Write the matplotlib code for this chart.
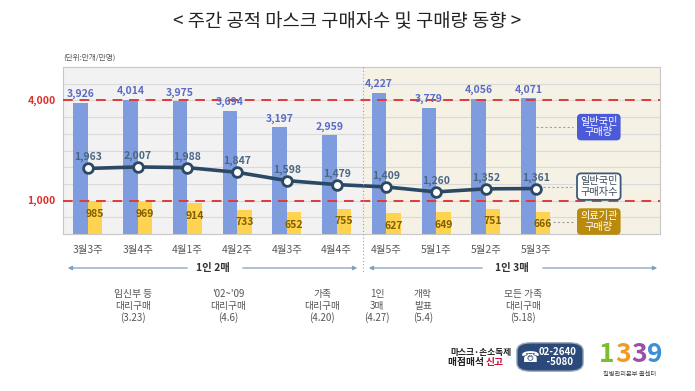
import matplotlib
matplotlib.use("Agg")
import matplotlib.pyplot as plt
from matplotlib.patches import FancyBboxPatch, FancyArrowPatch
from matplotlib.lines import Line2D
import numpy as np

plt.rcParams['font.family'] = ['Noto Sans CJK KR', 'DejaVu Sans']

categories = ['3월3주', '3월4주', '4월1주', '4월2주', '4월3주', '4월4주',
              '4월5주', '5월1주', '5월2주', '5월3주']
general_qty = [3926, 4014, 3975, 3694, 3197, 2959, 4227, 3779, 4056, 4071]
general_buyers = [1963, 2007, 1988, 1847, 1598, 1479, 1409, 1260, 1352, 1361]
medical_qty = [985, 969, 914, 733, 652, 755, 627, 649, 751, 666]
ref_lines = [4000, 1000]
ref_labels = ['4,000', '1,000']
events = ['임신부 등\n대리구매\n(3.23)', "'02~'09\n대리구매\n(4.6)", '가족\n대리구매\n(4.20)',
          '1인\n3매\n(4.27)', '개학\n발표\n(5.4)', '모든 가족\n대리구매\n(5.18)']
event_px = [133, 228, 322, 377, 423, 523]
periods = ['1인 2매', '1인 3매']

W, H = 695, 391
def fx(px): return px / W
def fy(py): return 1 - py / H

fig = plt.figure(figsize=(6.95, 3.91), dpi=100)
fig.patch.set_facecolor('white')
ax = fig.add_axes([fx(63), fy(234), fx(660) - fx(63), fy(67) - fy(234)])

x = np.arange(len(categories))
split = 5.53
ax.set_xlim(-0.5, 11.5)
ax.set_ylim(0, 5000)
ax.axvspan(-0.5, split, color='#F2F2F2', zorder=0, lw=0)
ax.axvspan(split, 11.5, color='#F5F1E4', zorder=0, lw=0)
for g in range(500, 5000, 500):
    ax.axhline(g, color='#DADADA', lw=0.8, zorder=0.5)

bw = 0.29
ax.bar(x - bw / 2, general_qty, width=bw, color='#7F9CDF', zorder=2)
ax.bar(x + bw / 2, medical_qty, width=bw, color='#FFD24F', zorder=2)

for v, lab in zip(ref_lines, ref_labels):
    ax.axhline(v, color='#E03A3A', lw=1.4, dashes=(5, 3.5), zorder=3)
    ax.text(-0.012, v, lab, transform=ax.get_yaxis_transform(), ha='right', va='center',
            color='#E0302A', fontsize=7.5, fontweight='bold')

ax.plot(x, general_buyers, color='#2C4963', lw=2.6, zorder=4,
        marker='o', ms=7, mfc='white', mec='#2C4963', mew=2)

for xi, v in zip(x, general_qty):
    ax.annotate(f'{v:,}', (xi - bw / 2, v), xytext=(0, 2.5), textcoords='offset points',
                ha='center', va='bottom', color='#5A6CC4', fontsize=7.5, fontweight='bold', zorder=5)
for xi, v in zip(x, general_buyers):
    ax.annotate(f'{v:,}', (xi, v), xytext=(0, 8), textcoords='offset points',
                ha='center', va='center', color='#4A6685', fontsize=7.5, fontweight='bold', zorder=5)
for xi, v in zip(x, medical_qty):
    ax.annotate(f'{v:,}', (xi + bw / 2, v), xytext=(0, -9), textcoords='offset points',
                ha='center', va='center', color='#7F5F00', fontsize=7.5, fontweight='bold', zorder=5)

# legend boxes with leaders
leg = [('일반국민\n구매량', 3200, '#4B5AD8', 'none', 'white', 9.0),
       ('일반국민\n구매자수', 1418, 'white', '#3C5A78', '#3C4A5A', 9.15),
       ('의료기관\n구매량', 373, '#B98A0C', 'none', 'white', 9.35)]
for txt, yv, fc, ec, tc, x0 in leg:
    ax.plot([x0, 9.75], [yv, yv], color='#A0A0A0', lw=0.8, ls=(0, (2, 2)), zorder=3)
    ax.text(10.27, yv, txt, ha='center', va='center', color=tc, fontsize=7.3, linespacing=1.05,
            zorder=6, bbox=dict(boxstyle='round,pad=0.3,rounding_size=0.4', fc=fc, ec=ec, lw=1.3))

ax.set_xticks(x)
ax.set_xticklabels(categories, fontsize=7.5, color='#595959')
ax.tick_params(axis='x', length=0, pad=8)
ax.set_yticks([])
for s in ax.spines.values():
    s.set_color('#C8C8C8')
    s.set_linewidth(0.8)

# divider
fig.add_artist(Line2D([fx(363), fx(363)], [fy(67), fy(272)], color='#A0A0A0', lw=0.8,
                      ls=(0, (1, 2))))

# period arrows
def arrow(x0, x1, y):
    fig.add_artist(FancyArrowPatch((fx(x0), fy(y)), (fx(x1), fy(y)), arrowstyle='-|>',
                                   mutation_scale=6, color='#7FA0C0', lw=0.9))
arrow(190, 65, 268); arrow(240, 360, 268)
arrow(485, 366, 268); arrow(540, 660, 268)
fig.text(fx(213), fy(268), periods[0], ha='center', va='center', fontsize=7.5, fontweight='bold', color='#333333')
fig.text(fx(512), fy(268), periods[1], ha='center', va='center', fontsize=7.5, fontweight='bold', color='#333333')

for t, px in zip(events, event_px):
    fig.text(fx(px), fy(289), t, ha='center', va='top', fontsize=7, color='#555555', linespacing=1.2)

# title & unit
fig.text(0.5, fy(22), '< 주간 공적 마스크 구매자수 및 구매량 동향 >', ha='center', va='center',
         fontsize=13.5, color='#222222')
fig.text(fx(63), fy(58), '(단위:만개/만명)', ha='left', va='center', fontsize=5.5, color='#555555')

# bottom logos
fig.text(fx(512), fy(352), '마스크·손소독제', ha='right', va='center', fontsize=6.3, fontweight='bold', color='#222222')
fig.text(fx(486), fy(362), '매점매석 ', ha='right', va='center', fontsize=7, fontweight='bold', color='#222222')
fig.text(fx(486), fy(362), '신고', ha='left', va='center', fontsize=7, fontweight='bold', color='#D0103A')
fig.add_artist(FancyBboxPatch((fx(519), fy(370)), fx(62), 26 / H,
                              boxstyle='round,pad=0.003,rounding_size=0.02', fc='#2B4A7A', ec='#9AA8BC', lw=1))
fig.text(fx(530), fy(357), '☎', ha='center', va='center', fontsize=11, color='white', family='DejaVu Sans')
fig.text(fx(558), fy(357), '02-2640\n  -5080', ha='center', va='center', fontsize=7, color='white',
         linespacing=1.0, fontweight='bold')
digits = [('1', '#7DBB2F'), ('3', '#F39A1E'), ('3', '#9B4FA8'), ('9', '#3A8FD8')]
for i, (d, c) in enumerate(digits):
    fig.text(fx(607 + i * 16), fy(354), d, ha='center', va='center', fontsize=19, fontweight='bold', color=c)
fig.text(fx(630), fy(374), '질병관리본부 콜센터', ha='center', va='center', fontsize=4.5, color='#444444')

fig.savefig('out.png', dpi=100)
